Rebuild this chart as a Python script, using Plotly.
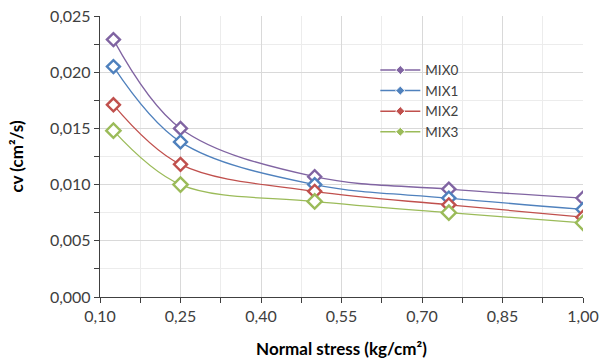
import plotly.graph_objects as go

stress = [0.125, 0.25, 0.50, 0.75, 1.00]
mix0 = [0.0229, 0.0150, 0.0107, 0.0096, 0.0088]
mix1 = [0.0205, 0.0138, 0.0100, 0.0088, 0.0078]
mix2 = [0.0171, 0.0118, 0.0094, 0.0082, 0.0071]
mix3 = [0.0148, 0.0100, 0.0085, 0.0075, 0.0066]
names = ["MIX0", "MIX1", "MIX2", "MIX3"]
colors = ["#8064A2", "#4F81BD", "#C0504D", "#9BBB59"]
marker_sizes = [10, 10, 10, 11]

FONT = "Lato, 'Open Sans', sans-serif"

fig = go.Figure()
for name, vals, col, ms in zip(names, [mix0, mix1, mix2, mix3], colors, marker_sizes):
    fig.add_trace(go.Scatter(
        x=stress, y=vals, name=name, mode="lines+markers", showlegend=False,
        line=dict(color=col, width=1.3, shape="spline", smoothing=1.0),
        marker=dict(symbol="diamond", size=ms, color="white",
                    line=dict(color=col, width=2.4)),
    ))
# legend entries (small filled markers, as in the reference legend)
for name, col in zip(names, colors):
    fig.add_trace(go.Scatter(
        x=[None], y=[None], name=name, mode="lines+markers",
        line=dict(color=col, width=1.5),
        marker=dict(symbol="diamond", size=7, color=col,
                    line=dict(color="white", width=1)),
    ))

fig.update_layout(
    width=603, height=362,
    margin=dict(l=100, r=20, t=16, b=65),
    paper_bgcolor="white", plot_bgcolor="white",
    separators=",.",
    font=dict(family=FONT, size=16, color="#404040"),
    legend=dict(x=0.570, y=0.862, xanchor="left", yanchor="top",
                bgcolor="rgba(0,0,0,0)", font=dict(size=13.5, color="#404040"),
                tracegroupgap=0, itemwidth=40),
    showlegend=True,
)
fig.update_xaxes(
    range=[0.10, 1.00], tick0=0.10, dtick=0.15, tickformat=".2f",
    showline=True, linecolor="#404040", linewidth=1.3,
    ticks="outside", ticklen=5, tickcolor="#404040",
    showgrid=True, gridcolor="#d9d9d9", gridwidth=1, zeroline=False,
    minor=dict(dtick=0.075, tick0=0.10, ticks="outside", ticklen=5,
               tickcolor="#404040", showgrid=True, gridcolor="#ececec"),
    title=dict(text="<b>Normal stress (kg/cm²)</b>", font=dict(size=17, color="black"), standoff=18),
    tickfont=dict(size=16), automargin=False,
)
fig.update_yaxes(
    range=[0, 0.025], tick0=0, dtick=0.005, tickformat=".3f",
    showline=True, linecolor="#404040", linewidth=1.3,
    ticks="outside", ticklen=5, tickcolor="#404040",
    showgrid=True, gridcolor="#d9d9d9", gridwidth=1, zeroline=False,
    minor=dict(dtick=0.0025, ticks="outside", ticklen=5,
               tickcolor="#404040", showgrid=True, gridcolor="#ececec"),
    title=dict(text="<b>cv (cm²/s)</b>", font=dict(size=17, color="black"), standoff=21),
    tickfont=dict(size=16), automargin=False,
)

fig.write_html(
    "out.html",
    config={"displayModeBar": False},
    post_script="document.body.style.margin='0';document.body.style.overflow='hidden';",
)
